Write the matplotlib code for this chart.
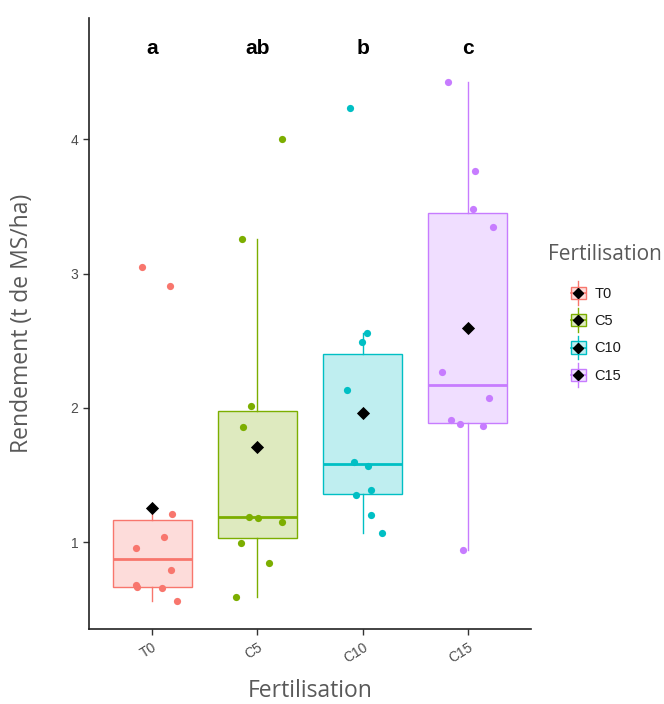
import numpy as np
import matplotlib
matplotlib.use("Agg")
import matplotlib.pyplot as plt
from matplotlib.patches import Rectangle, Patch
from matplotlib.lines import Line2D
from matplotlib.legend_handler import HandlerBase

# groups and colours (ggplot default hue palette)
groups = ["T0", "C5", "C10", "C15"]
colors = ["#F8766D", "#7CAE00", "#00BFC4", "#C77CFF"]
letters = ["a", "ab", "b", "c"]

# yields (t de MS/ha)
y_t0 = [3.051, 2.908, 1.206, 1.035, 0.955, 0.791, 0.680, 0.665, 0.657, 0.560]
y_c5 = [4.005, 3.258, 2.016, 1.857, 1.189, 1.179, 1.151, 0.990, 0.846, 0.588]
y_c10 = [4.232, 2.557, 2.493, 2.133, 1.598, 1.564, 1.390, 1.350, 1.199, 1.068]
y_c15 = [4.428, 3.762, 3.484, 3.347, 2.269, 2.071, 1.909, 1.881, 1.862, 0.940]

# horizontal jitter of each point, as seen on the picture
jit_t0 = [-0.095, 0.167, 0.192, 0.114, -0.151, 0.180, -0.151, -0.148, 0.097, 0.237]
jit_c5 = [0.234, -0.145, -0.063, -0.132, -0.076, 0.003, 0.234, -0.154, 0.107, -0.200]
jit_c10 = [-0.117, 0.044, -0.004, -0.151, -0.085, 0.053, 0.079, -0.061, 0.076, 0.180]
jit_c15 = [-0.193, 0.069, 0.047, 0.239, -0.243, 0.204, -0.161, -0.070, 0.148, -0.047]

data = [y_t0, y_c5, y_c10, y_c15]
jitters = [jit_t0, jit_c5, jit_c10, jit_c15]
pos = np.arange(1, len(groups) + 1)

title_font = "Open Sans"
tick_font = "Liberation Sans"
grey = "#595959"

fig = plt.figure(figsize=(6.64, 7.04), dpi=100)
ax = fig.add_axes([0.134, 0.1065, 0.6657, 0.868])

for i, (vals, col) in enumerate(zip(data, colors)):
    bp = ax.boxplot([vals], positions=[pos[i]], widths=0.75, whis=1.5,
                    showfliers=False, patch_artist=True, showcaps=False)
    for b in bp["boxes"]:
        b.set_facecolor(matplotlib.colors.to_rgba(col, 0.25))
        b.set_edgecolor(col)
        b.set_linewidth(1.0)
    for w in bp["whiskers"]:
        w.set_color(col)
        w.set_linewidth(1.0)
    for m in bp["medians"]:
        m.set_color(col)
        m.set_linewidth(2.0)
    # jittered points
    ax.scatter(pos[i] + np.array(jitters[i]), vals, s=27, color=col,
               zorder=3, linewidths=0)
    # mean
    ax.scatter([pos[i]], [np.mean(vals)], marker="D", s=45, color="black",
               zorder=4, linewidths=0)
    # significance letters
    ax.text(pos[i], 4.675, letters[i], ha="center", va="center",
            fontsize=15, fontweight="bold", family=tick_font, color="black")

ax.set_xlim(0.4, 4.6)
ax.set_ylim(0.352, 4.905)
ax.set_xticks(pos)
ax.set_xticklabels(groups, rotation=32, ha="right", rotation_mode="anchor")
ax.set_yticks([1, 2, 3, 4])
ax.set_yticklabels(["1", "2", "3", "4"])
for lab in ax.get_xticklabels() + ax.get_yticklabels():
    lab.set_family(tick_font)
    lab.set_fontsize(10)
    lab.set_color("#4D4D4D")
ax.tick_params(axis="both", length=4, width=1, color="#333333")
ax.tick_params(axis="x", pad=4)

for s in ["top", "right"]:
    ax.spines[s].set_visible(False)
for s in ["left", "bottom"]:
    ax.spines[s].set_linewidth(1.2)
    ax.spines[s].set_color("#222222")

ax.set_xlabel("Fertilisation", fontsize=16.5, family=title_font, color=grey)
ax.set_ylabel("Rendement (t de MS/ha)", fontsize=16.5, family=title_font, color=grey)
ax.xaxis.set_label_coords(0.5, -0.081)
ax.yaxis.set_label_coords(-0.125, 0.5)


# legend key: small box with whisker and black diamond
class BoxKeyHandler(HandlerBase):
    def create_artists(self, legend, orig_handle, xdescent, ydescent,
                       width, height, fontsize, trans):
        col = orig_handle.get_edgecolor()
        bw, bh = 10.5, 9
        cx = -xdescent + width - bw / 2
        cy = -ydescent + height / 2
        whisker = Line2D([cx, cx], [cy - 8.5, cy + 8.5], color=col, lw=1, transform=trans)
        box = Rectangle((cx - bw / 2, cy - bh / 2), bw, bh, facecolor=orig_handle.get_facecolor(),
                        edgecolor=col, lw=1, transform=trans)
        med = Line2D([cx - bw / 2, cx + bw / 2], [cy, cy], color=col, lw=1.2, transform=trans)
        dia = Line2D([cx], [cy], marker="D", markersize=5, color="black", lw=0, transform=trans)
        return [whisker, box, med, dia]


handles = [Patch(facecolor=matplotlib.colors.to_rgba(c, 0.25), edgecolor=c) for c in colors]
leg = fig.legend(handles, groups, handler_map={Patch: BoxKeyHandler()},
                 loc="upper left", bbox_to_anchor=(0.825, 0.596), frameon=False,
                 borderpad=0, borderaxespad=0,
                 handlelength=2.6, handleheight=1.4,
                 labelspacing=0.72, handletextpad=0.6,
                 prop={"family": tick_font, "size": 10.5})
for t in leg.get_texts():
    t.set_color("#1a1a1a")
fig.text(0.825, 0.638, "Fertilisation", ha="left", va="center",
         fontsize=15, family=title_font, color=grey)

fig.savefig("out.png", dpi=100)
